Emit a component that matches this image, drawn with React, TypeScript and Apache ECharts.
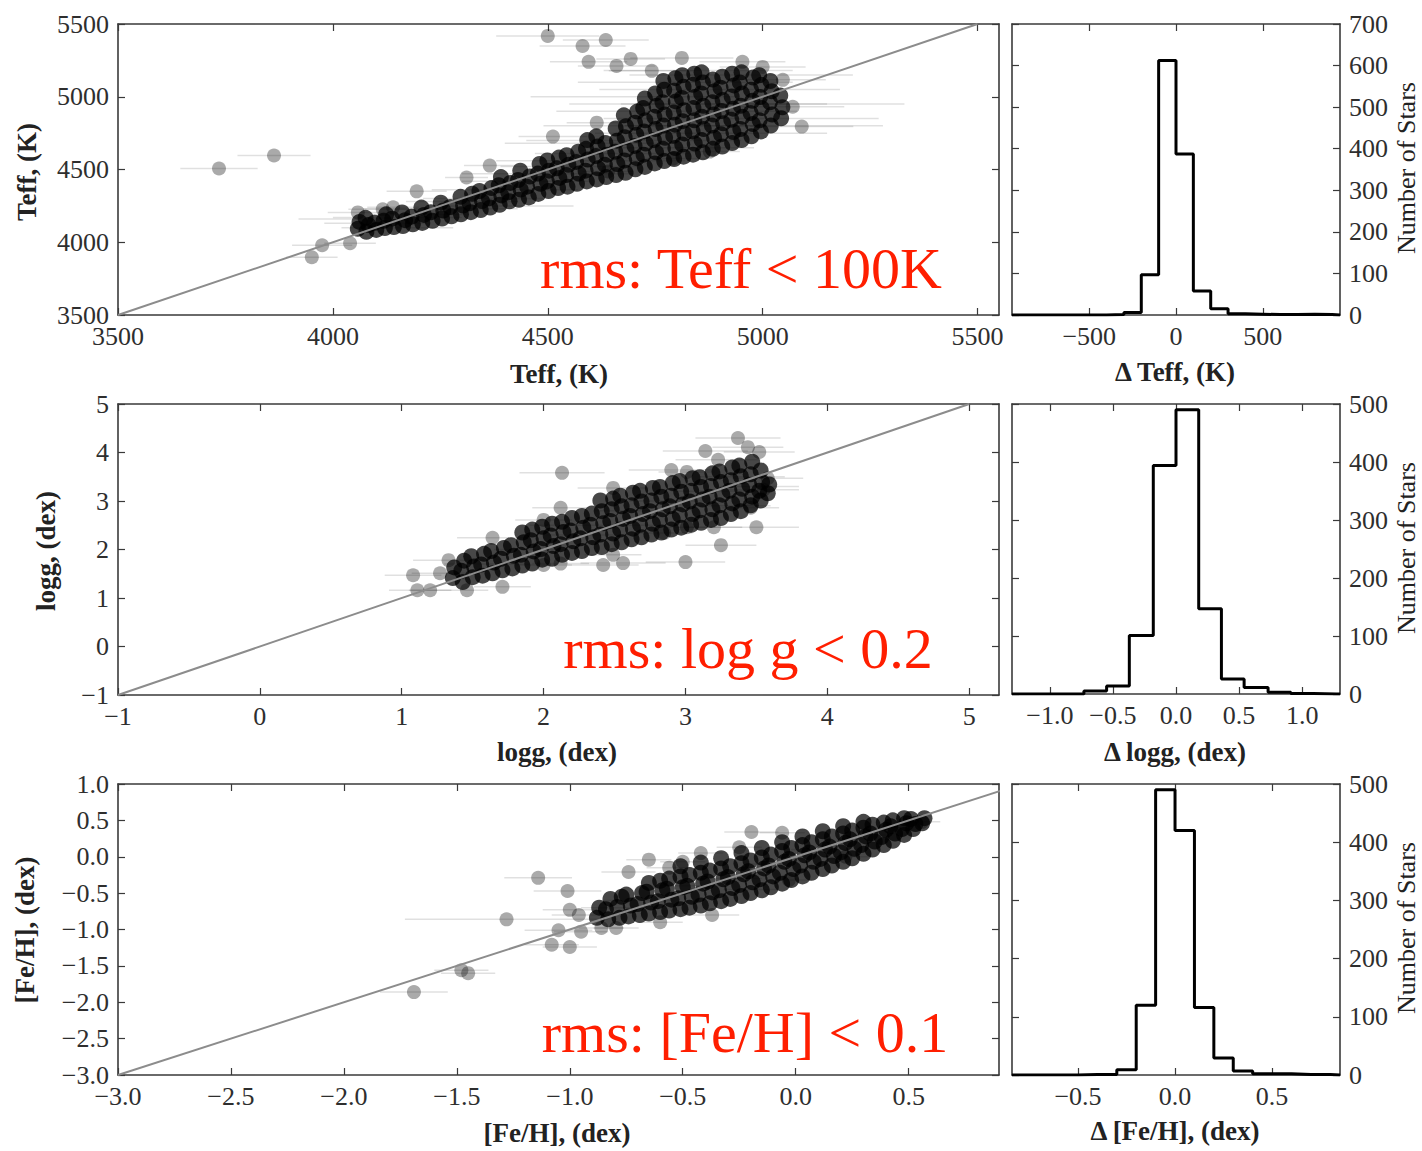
import React, { useEffect, useRef } from "react";
import * as echarts from "echarts";

// ---------- Teff panel ----------
const teffAxis = { min: 3500, max: 5550, ymin: 3500, ymax: 5500 };
const teffTicks = [3500, 4000, 4500, 5000, 5500];
const teffCore: number[][] = [
  [4058,4092],[4062,4140],[4078,4072],[4083,4118],[4076,4168],[4101,4085],[4097,4134],
  [4121,4098],[4118,4148],[4124,4192],[4142,4104],[4138,4162],[4163,4112],[4168,4152],[4161,4205],
  [4186,4124],[4183,4176],[4208,4133],[4212,4188],[4206,4238],[4232,4148],[4228,4206],
  [4254,4163],[4257,4218],[4251,4272],[4276,4178],[4273,4242],[4298,4192],[4303,4252],[4297,4312],
  [4321,4207],[4318,4268],[4324,4333],[4344,4221],[4347,4283],[4341,4352],
  [4366,4238],[4363,4302],[4369,4372],[4388,4258],[4392,4322],[4386,4392],[4391,4448],
  [4411,4282],[4408,4343],[4413,4408],[4433,4292],[4437,4362],[4431,4428],[4436,4492],
  [4456,4308],[4452,4382],[4458,4452],[4478,4332],[4483,4402],[4477,4472],[4481,4538],
  [4502,4352],[4498,4418],[4503,4492],[4499,4562],[4524,4372],[4527,4442],[4521,4508],[4526,4582],
  [4546,4382],[4543,4462],[4548,4532],[4544,4598],[4568,4402],[4572,4472],[4566,4552],[4571,4622],
  [4591,4418],[4588,4492],[4593,4568],[4589,4642],[4592,4702],
  [4614,4432],[4617,4508],[4612,4592],[4616,4658],[4613,4728],
  [4636,4448],[4633,4532],[4638,4602],[4634,4682],
  [4659,4462],[4662,4538],[4657,4622],[4661,4698],[4658,4782],
  [4681,4478],[4678,4562],[4683,4638],[4679,4722],[4682,4798],[4677,4872],
  [4704,4502],[4707,4578],[4702,4662],[4706,4738],[4703,4822],[4708,4898],
  [4726,4518],[4723,4602],[4728,4678],[4724,4762],[4727,4838],[4722,4922],[4726,4988],
  [4749,4542],[4752,4618],[4747,4702],[4751,4778],[4748,4862],[4753,4938],[4750,5022],
  [4771,4558],[4768,4642],[4773,4718],[4769,4802],[4772,4878],[4767,4962],[4771,5048],[4769,5108],
  [4794,4572],[4797,4648],[4792,4732],[4796,4808],[4793,4892],[4798,4968],[4794,5042],[4797,5128],
  [4816,4588],[4813,4672],[4818,4748],[4814,4832],[4817,4908],[4812,4992],[4816,5068],[4813,5148],
  [4838,4602],[4842,4678],[4837,4762],[4841,4838],[4839,4922],[4843,4998],[4838,5082],[4841,5158],
  [4861,4618],[4858,4702],[4863,4778],[4859,4862],[4862,4938],[4857,5022],[4861,5098],[4858,5168],
  [4884,4642],[4887,4718],[4882,4802],[4886,4878],[4883,4962],[4888,5038],[4884,5118],
  [4906,4658],[4903,4742],[4908,4818],[4904,4902],[4907,4978],[4902,5062],[4906,5138],
  [4929,4682],[4932,4758],[4927,4842],[4931,4918],[4928,5002],[4933,5078],[4929,5158],
  [4951,4702],[4948,4778],[4953,4862],[4949,4938],[4952,5022],[4947,5098],[4951,5168],
  [4974,4728],[4977,4812],[4972,4888],[4976,4972],[4973,5048],[4978,5132],
  [4996,4762],[4993,4838],[4998,4922],[4994,4998],[4997,5082],[4992,5148],
  [5019,4802],[5022,4878],[5017,4962],[5021,5038],[5018,5108],
  [5043,4852],[5046,4928],[5041,5008],
];
// [x, y, xerr]
const teffOutliers: number[][] = [
  [3735,4507,90],[3863,4596,85],[3951,3897,60],[3975,3979,70],[4040,3993,60],[4058,4205,70],
  [4116,4226,80],[4140,4240,60],[4195,4350,70],[4365,4527,60],[4311,4445,50],[4512,4726,80],
  [4614,4822,70],[4640,4486,60],[4791,4575,80],[4877,4623,70],[4500,5418,120],[4581,5349,100],
  [4635,5390,100],[4595,5240,90],[4660,5212,90],[4693,5260,80],[4742,5178,100],[4812,5267,120],
  [4953,5240,100],[5000,5205,100],[5047,5116,100],[5070,4931,120],[5091,4795,120],
];
const teffErrBars: number[][] = [
  [4100,4130,120],[4150,4170,150],[4200,4190,110],[4250,4230,180],[4300,4280,130],[4350,4300,140],
  [4400,4360,170],[4450,4420,150],[4500,4470,200],[4550,4520,160],[4600,4560,220],[4650,4610,180],
  [4700,4700,250],[4750,4800,260],[4800,4900,280],[4850,4950,300],[4900,5050,280],[4950,4850,320],
  [5000,4950,330],[4820,5100,250],[4880,4750,270],[4950,5150,260],[4700,5000,240],[4600,4680,200],
  [4400,4250,160],[4150,4100,130],[4060,4160,140],[4980,4800,300],[4780,4650,200],[4850,5180,220],
];
const teffHistEdges = [-900,-800,-700,-600,-500,-400,-300,-200,-100,0,100,200,300,400,500,600,700,800,900];
const teffHistCounts = [0,0,0,0,0,1,6,97,612,387,58,15,3,2,1,1,2,1];
const teffHistAxis = { min: -945, max: 945, ymax: 700 };
const teffHistTicks = [-500, 0, 500];
const teffCountTicks = [0,100,200,300,400,500,600,700];

// ---------- logg panel ----------
const loggAxis = { min: -1, max: 5.21, ymin: -1, ymax: 5 };
const loggTicks = [-1, 0, 1, 2, 3, 4, 5];
const loggCore: number[][] = [
  [1.36,1.41],[1.37,1.63],[1.43,1.33],[1.42,1.56],[1.44,1.77],[1.50,1.43],[1.51,1.65],[1.49,1.86],
  [1.57,1.46],[1.56,1.69],[1.58,1.91],[1.64,1.51],[1.65,1.73],[1.63,1.97],[1.71,1.57],[1.70,1.81],[1.72,2.03],
  [1.78,1.61],[1.79,1.87],[1.77,2.09],[1.85,1.67],[1.84,1.89],[1.86,2.15],[1.85,2.35],
  [1.92,1.71],[1.93,1.96],[1.91,2.19],[1.92,2.41],[1.99,1.79],[1.98,2.01],[2.00,2.23],[1.99,2.47],
  [2.06,1.81],[2.07,2.07],[2.05,2.29],[2.06,2.53],[2.13,1.89],[2.12,2.11],[2.14,2.36],[2.13,2.57],
  [2.20,1.93],[2.21,2.17],[2.19,2.39],[2.20,2.65],[2.27,1.97],[2.26,2.23],[2.28,2.45],[2.27,2.69],
  [2.34,2.03],[2.35,2.25],[2.33,2.51],[2.34,2.74],[2.41,2.05],[2.40,2.31],[2.42,2.54],[2.41,2.79],[2.40,3.01],
  [2.48,2.11],[2.49,2.33],[2.47,2.59],[2.48,2.83],[2.49,3.05],[2.55,2.15],[2.54,2.41],[2.56,2.63],[2.55,2.89],[2.54,3.11],
  [2.62,2.21],[2.63,2.43],[2.61,2.69],[2.62,2.91],[2.63,3.17],[2.69,2.25],[2.68,2.51],[2.70,2.73],[2.69,2.99],[2.68,3.21],
  [2.76,2.31],[2.77,2.53],[2.75,2.79],[2.76,3.01],[2.77,3.27],[2.83,2.35],[2.82,2.61],[2.84,2.83],[2.83,3.09],[2.82,3.29],
  [2.90,2.41],[2.91,2.63],[2.89,2.89],[2.90,3.11],[2.91,3.37],[2.97,2.45],[2.96,2.71],[2.98,2.93],[2.97,3.19],[2.96,3.41],
  [3.04,2.51],[3.05,2.73],[3.03,2.99],[3.04,3.21],[3.05,3.47],[3.11,2.55],[3.10,2.81],[3.12,3.03],[3.11,3.29],[3.10,3.49],
  [3.18,2.61],[3.19,2.83],[3.17,3.09],[3.18,3.31],[3.19,3.57],[3.25,2.65],[3.24,2.91],[3.26,3.13],[3.25,3.39],[3.24,3.61],
  [3.32,2.73],[3.33,2.95],[3.31,3.21],[3.32,3.43],[3.33,3.69],[3.39,2.79],[3.38,3.03],[3.40,3.25],[3.39,3.51],[3.38,3.73],
  [3.46,2.91],[3.47,3.09],[3.45,3.33],[3.46,3.55],[3.47,3.81],[3.53,3.01],[3.52,3.21],[3.54,3.39],[3.53,3.63],
  [3.58,3.16],[3.59,3.34],
];
const loggOutliers: number[][] = [
  [2.13,3.58,0.3],[2.42,1.68,0.25],[2.56,1.72,0.3],[2.49,1.89,0.2],[3.00,1.74,0.28],[3.25,2.09,0.25],
  [3.50,2.46,0.3],[3.01,2.46,0.2],[3.20,2.46,0.2],[3.37,4.30,0.3],[3.14,4.03,0.3],[3.44,4.11,0.25],
  [3.52,4.01,0.25],[3.23,3.85,0.3],[3.58,3.47,0.25],[3.55,3.23,0.25],[3.46,2.86,0.2],[2.90,3.64,0.3],
  [2.12,2.86,0.2],[2.00,2.61,0.2],[1.64,2.24,0.25],[1.33,1.78,0.25],[1.71,1.23,0.2],[2.00,1.68,0.2],
  [2.12,1.71,0.2],[2.85,2.34,0.2],[3.01,3.60,0.2],[2.49,3.27,0.25],[1.08,1.47,0.2],[1.11,1.16,0.2],
  [1.20,1.16,0.15],[1.27,1.51,0.2],[1.46,1.16,0.15],
];
const loggErrBars: number[][] = [
  [1.6,1.7,0.3],[1.9,2.0,0.25],[2.3,2.3,0.3],[2.6,2.8,0.25],[2.9,3.0,0.3],[3.2,3.2,0.3],
  [3.4,3.5,0.3],[3.5,3.3,0.3],[2.2,2.5,0.3],[3.3,2.9,0.3],[2.7,2.5,0.25],
];
const loggHistEdges = [-1.27,-1.09,-0.91,-0.73,-0.55,-0.37,-0.18,0,0.18,0.36,0.54,0.73,0.91,1.09,1.27];
const loggHistCounts = [0,0,0,5,14,101,394,490,147,26,11,3,1,0];
const loggHistAxis = { min: -1.3, max: 1.3, ymax: 500 };
const loggHistTicks = [-1.0, -0.5, 0.0, 0.5, 1.0];
const countTicks500 = [0,100,200,300,400,500];

// ---------- [Fe/H] panel ----------
const fehAxis = { min: -3, max: 0.9, ymin: -3, ymax: 1 };
const fehTicks = [-3.0, -2.5, -2.0, -1.5, -1.0, -0.5, 0.0, 0.5];
const fehYTicks = [-3.0, -2.5, -2.0, -1.5, -1.0, -0.5, 0.0, 0.5, 1.0];
const fehCore: number[][] = [
  [-0.88,-0.84],[-0.87,-0.70],[-0.83,-0.86],[-0.84,-0.72],[-0.82,-0.58],[-0.78,-0.84],[-0.79,-0.69],[-0.77,-0.55],
  [-0.74,-0.82],[-0.73,-0.67],[-0.75,-0.52],[-0.69,-0.80],[-0.70,-0.65],[-0.68,-0.50],
  [-0.65,-0.78],[-0.64,-0.63],[-0.66,-0.48],[-0.65,-0.36],[-0.60,-0.76],[-0.61,-0.61],[-0.59,-0.46],[-0.60,-0.33],
  [-0.56,-0.74],[-0.55,-0.59],[-0.57,-0.44],[-0.56,-0.30],[-0.51,-0.72],[-0.52,-0.57],[-0.50,-0.42],[-0.51,-0.27],
  [-0.47,-0.70],[-0.46,-0.55],[-0.48,-0.40],[-0.47,-0.25],[-0.42,-0.67],[-0.43,-0.52],[-0.41,-0.37],[-0.42,-0.22],
  [-0.38,-0.64],[-0.37,-0.49],[-0.39,-0.34],[-0.38,-0.19],[-0.33,-0.61],[-0.34,-0.46],[-0.32,-0.31],[-0.33,-0.16],
  [-0.29,-0.58],[-0.28,-0.43],[-0.30,-0.28],[-0.29,-0.13],[-0.24,-0.54],[-0.25,-0.39],[-0.23,-0.24],[-0.24,-0.09],
  [-0.20,-0.50],[-0.19,-0.35],[-0.21,-0.20],[-0.20,-0.05],[-0.15,-0.46],[-0.16,-0.31],[-0.14,-0.16],[-0.15,-0.01],
  [-0.11,-0.42],[-0.10,-0.27],[-0.12,-0.12],[-0.11,0.03],[-0.06,-0.37],[-0.07,-0.22],[-0.05,-0.07],[-0.06,0.08],
  [-0.02,-0.32],[-0.01,-0.17],[-0.03,-0.03],[-0.02,0.12],[0.03,-0.27],[0.02,-0.12],[0.04,0.02],[0.03,0.16],
  [0.07,-0.22],[0.08,-0.07],[0.06,0.06],[0.07,0.20],[0.12,-0.17],[0.11,-0.03],[0.13,0.10],[0.12,0.24],
  [0.16,-0.12],[0.17,0.01],[0.15,0.14],[0.16,0.28],[0.21,-0.07],[0.20,0.06],[0.22,0.19],[0.21,0.32],
  [0.25,-0.02],[0.26,0.11],[0.24,0.24],[0.25,0.36],[0.30,0.04],[0.29,0.16],[0.31,0.28],[0.30,0.40],
  [0.34,0.10],[0.35,0.21],[0.33,0.32],[0.34,0.44],[0.39,0.16],[0.38,0.27],[0.40,0.37],[0.39,0.47],
  [0.43,0.22],[0.44,0.32],[0.42,0.42],[0.43,0.50],[0.48,0.30],[0.47,0.38],[0.49,0.46],[0.48,0.53],
  [0.52,0.38],[0.53,0.45],[0.51,0.52],[0.56,0.46],[0.57,0.53],
  [-0.51,-0.13],[-0.42,-0.08],[-0.33,-0.02],[-0.24,0.05],[-0.15,0.12],[-0.06,0.20],[0.03,0.28],[0.12,0.35],[0.21,0.42],[0.30,0.48],
];
const fehOutliers: number[][] = [
  [-0.196,0.34,0.12],[-0.42,0.05,0.1],[-0.65,-0.04,0.1],[-0.50,-0.07,0.1],[-0.56,-0.15,0.1],[-0.74,-0.21,0.12],
  [-0.25,0.13,0.1],[-0.06,0.33,0.1],[-1.14,-0.29,0.15],[-1.01,-0.47,0.15],[-1.28,-0.86,0.45],[-1.00,-0.73,0.12],
  [-1.05,-1.01,0.15],[-1.08,-1.21,0.12],[-1.00,-1.24,0.12],[-0.95,-1.03,0.12],[-0.96,-0.80,0.12],[-0.86,-0.98,0.1],
  [-0.795,-0.98,0.1],[-0.60,-0.90,0.1],[-0.37,-0.80,0.12],[-0.03,-0.32,0.1],[0.22,0.0,0.1],[0.56,0.48,0.08],
  [-1.48,-1.56,0.12],[-1.45,-1.60,0.12],[-1.69,-1.86,0.15],
];
const fehErrBars: number[][] = [
  [-0.7,-0.6,0.15],[-0.5,-0.4,0.12],[-0.3,-0.3,0.15],[-0.1,-0.1,0.12],[0.1,0.1,0.12],[-0.2,-0.45,0.12],
  [0.3,0.3,0.1],[-0.8,-0.7,0.15],
];
const fehHistEdges = [-0.8,-0.7,-0.6,-0.5,-0.4,-0.3,-0.2,-0.1,0,0.1,0.2,0.3,0.4,0.5,0.6,0.7,0.8];
const fehHistCounts = [0,0,0,1,1,9,120,490,420,116,29,7,2,2,1,1];
const fehHistAxis = { min: -0.84, max: 0.85, ymax: 500 };
const fehHistTicks = [-0.5, 0.0, 0.5];

const rmsLabels = ["rms: Teff < 100K", "rms: log g < 0.2", "rms: [Fe/H] < 0.1"];

const FONT = "'Liberation Serif', 'Times New Roman', serif";
const FRAME = "#3a3a3a";

const fmtInt = (v: number) => (v < 0 ? "\u2212" + Math.abs(v) : String(v));
const fmt1 = (v: number) => {
  const s = Math.abs(v).toFixed(1);
  return v < -1e-9 ? "\u2212" + s : s;
};

function histSteps(edges: number[], counts: number[], xmin: number, xmax: number) {
  const pts: number[][] = [[xmin, 0], [edges[0], 0]];
  for (let i = 0; i < counts.length; i++) {
    pts.push([edges[i], counts[i]]);
    pts.push([edges[i + 1], counts[i]]);
  }
  pts.push([edges[edges.length - 1], 0]);
  pts.push([xmax, 0]);
  return pts;
}

function axisPair(dim: "x" | "y", gi: number, min: number, max: number, ticks: number[], fmt: (v: number) => string, labelSide: "primary" | "secondary") {
  const base = (pos: string, showLabel: boolean) => ({
    type: "value",
    gridIndex: gi,
    position: pos,
    min,
    max,
    axisLine: { show: true, onZero: false, lineStyle: { color: FRAME, width: 1.6 } },
    axisTick: { show: true, inside: true, length: 7, customValues: ticks, lineStyle: { color: FRAME, width: 1.2 } },
    axisLabel: {
      show: showLabel,
      customValues: ticks,
      formatter: (v: number) => fmt(v),
      color: "#2e2e2e",
      fontFamily: FONT,
      fontSize: 26,
      margin: dim === "x" ? 8 : 9,
    },
    splitLine: { show: false },
  });
  if (dim === "x") return [base("bottom", true), base("top", false)];
  return labelSide === "primary" ? [base("left", true), base("right", false)] : [base("left", false), base("right", true)];
}

function errSeries(xi: number, yi: number, data: number[][]) {
  return {
    type: "custom",
    xAxisIndex: xi,
    yAxisIndex: yi,
    data,
    clip: true,
    silent: true,
    z: 1,
    encode: { x: 0, y: 1 },
    renderItem: (_p: any, api: any) => {
      const x = api.value(0), y = api.value(1), e = api.value(2);
      const a = api.coord([x - e, y]);
      const b = api.coord([x + e, y]);
      return { type: "line", shape: { x1: a[0], y1: a[1], x2: b[0], y2: b[1] }, style: { stroke: "rgba(0,0,0,0.12)", lineWidth: 1.5 } };
    },
  };
}

function scatterSeries(xi: number, yi: number, core: number[][], outl: number[][], lo: number, hi: number) {
  return [
    {
      type: "scatter", xAxisIndex: xi, yAxisIndex: yi, data: outl.map((d) => [d[0], d[1]]),
      symbolSize: 14, itemStyle: { color: "rgba(20,20,20,0.45)" }, z: 2, silent: true,
    },
    {
      type: "scatter", xAxisIndex: xi, yAxisIndex: yi, data: core,
      symbolSize: 16, itemStyle: { color: "rgba(0,0,0,0.9)" }, z: 3, silent: true,
    },
    {
      type: "line", xAxisIndex: xi, yAxisIndex: yi, data: [[lo, lo], [hi, hi]], showSymbol: false, symbol: "none",
      lineStyle: { color: "#8c8c8c", width: 2 }, z: 5, silent: true,
    },
  ];
}

function histSeries(xi: number, yi: number, pts: number[][]) {
  return {
    type: "line", xAxisIndex: xi, yAxisIndex: yi, data: pts, symbol: "none", showSymbol: false,
    lineStyle: { color: "#000", width: 3 }, z: 3, silent: true,
  };
}

export default function App() {
  const ref = useRef<HTMLDivElement>(null);
  useEffect(() => {
    document.body.style.margin = "0";
    const chart = echarts.init(ref.current!, null, { renderer: "svg" });
    const grids = [
      { left: 118, top: 24, width: 881, height: 291 },
      { left: 1012, top: 24, width: 328, height: 291 },
      { left: 118, top: 404, width: 881, height: 291 },
      { left: 1012, top: 404, width: 328, height: 290 },
      { left: 118, top: 784, width: 881, height: 291 },
      { left: 1012, top: 784, width: 328, height: 291 },
    ];
    const xAxis = [
      ...axisPair("x", 0, teffAxis.min, teffAxis.max, teffTicks, fmtInt, "primary"),
      ...axisPair("x", 1, teffHistAxis.min, teffHistAxis.max, teffHistTicks, fmtInt, "primary"),
      ...axisPair("x", 2, loggAxis.min, loggAxis.max, loggTicks, fmtInt, "primary"),
      ...axisPair("x", 3, loggHistAxis.min, loggHistAxis.max, loggHistTicks, fmt1, "primary"),
      ...axisPair("x", 4, fehAxis.min, fehAxis.max, fehTicks, fmt1, "primary"),
      ...axisPair("x", 5, fehHistAxis.min, fehHistAxis.max, fehHistTicks, fmt1, "primary"),
    ];
    const yAxis = [
      ...axisPair("y", 0, teffAxis.ymin, teffAxis.ymax, teffTicks, fmtInt, "primary"),
      ...axisPair("y", 1, 0, teffHistAxis.ymax, teffCountTicks, fmtInt, "secondary"),
      ...axisPair("y", 2, loggAxis.ymin, loggAxis.ymax, loggTicks, fmtInt, "primary"),
      ...axisPair("y", 3, 0, loggHistAxis.ymax, countTicks500, fmtInt, "secondary"),
      ...axisPair("y", 4, fehAxis.ymin, fehAxis.ymax, fehYTicks, fmt1, "primary"),
      ...axisPair("y", 5, 0, fehHistAxis.ymax, countTicks500, fmtInt, "secondary"),
    ];
    const series: any[] = [
      errSeries(0, 0, [...teffOutliers, ...teffErrBars]),
      ...scatterSeries(0, 0, teffCore, teffOutliers, 3500, 5500),
      histSeries(2, 3, histSteps(teffHistEdges, teffHistCounts, teffHistAxis.min, teffHistAxis.max)),
      errSeries(4, 4, [...loggOutliers, ...loggErrBars]),
      ...scatterSeries(4, 4, loggCore, loggOutliers, -1, 5),
      histSeries(6, 7, histSteps(loggHistEdges, loggHistCounts, loggHistAxis.min, loggHistAxis.max)),
      errSeries(8, 8, [...fehOutliers, ...fehErrBars]),
      ...scatterSeries(8, 8, fehCore, fehOutliers, -3, 1),
      histSeries(10, 11, histSteps(fehHistEdges, fehHistCounts, fehHistAxis.min, fehHistAxis.max)),
    ];
    const titleFont = `bold 27px ${FONT}`;
    const txt = (text: string, x: number, y: number, font: string, rot = 0, fill = "#222") => ({
      type: "text", x, y, rotation: rot, silent: true,
      style: { text, font, fill, align: "center", verticalAlign: "middle" },
    });
    const R = Math.PI / 2;
    const starFont = `26px ${FONT}`;
    const graphic = [
      txt("Teff, (K)", 27, 172, titleFont, R),
      txt("Teff, (K)", 559, 374, titleFont),
      txt("logg, (dex)", 46, 551, titleFont, R),
      txt("logg, (dex)", 557, 752, titleFont),
      txt("[Fe/H], (dex)", 25, 930, titleFont, R),
      txt("[Fe/H], (dex)", 557, 1133, titleFont),
      txt("\u0394 Teff, (K)", 1175, 372, titleFont),
      txt("\u0394 logg, (dex)", 1175, 752, titleFont),
      txt("\u0394 [Fe/H], (dex)", 1175, 1131, titleFont),
      txt("Number of Stars", 1406, 168, starFont, R),
      txt("Number of Stars", 1406, 548, starFont, R),
      txt("Number of Stars", 1406, 928, starFont, R),
      txt(rmsLabels[0], 741, 268, `58px ${FONT}`, 0, "#ff1e00"),
      txt(rmsLabels[1], 748, 648, `58px ${FONT}`, 0, "#ff1e00"),
      txt(rmsLabels[2], 745, 1032, `58px ${FONT}`, 0, "#ff1e00"),
    ];
    chart.setOption({
      animation: false,
      backgroundColor: "#fff",
      grid: grids.map((g) => ({ ...g, outerBoundsMode: "none", containLabel: false })),
      xAxis,
      yAxis,
      series,
      graphic,
    });
    return () => chart.dispose();
  }, []);
  return <div ref={ref} style={{ width: 1422, height: 1151 }} />;
}
